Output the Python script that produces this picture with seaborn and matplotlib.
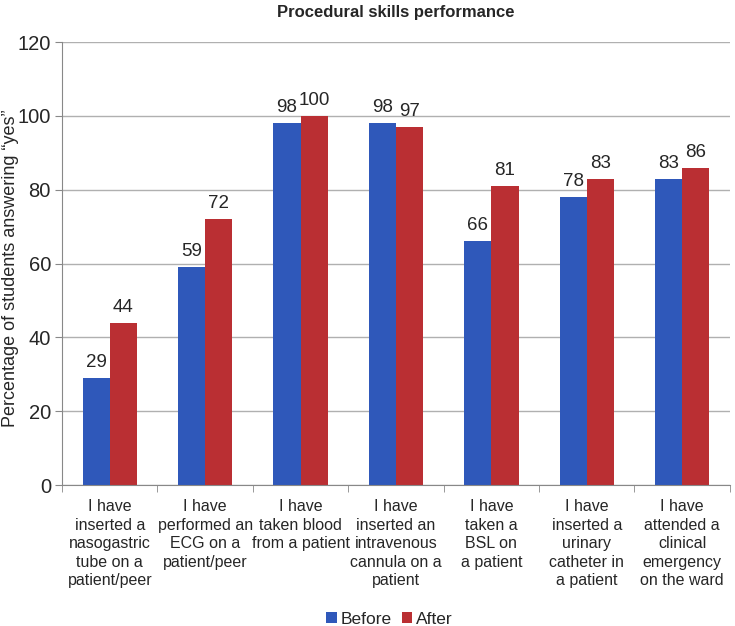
import pandas as pd
import numpy as np
import matplotlib.pyplot as plt
import seaborn as sns

# Chart data
categories = [
    "I have\ninserted a\nnasogastric\ntube on a\npatient/peer",
    "I have\nperformed an\nECG on a\npatient/peer",
    "I have\ntaken blood\nfrom a patient",
    "I have\ninserted an\nintravenous\ncannula on a\npatient",
    "I have\ntaken a\nBSL on\na patient",
    "I have\ninserted a\nurinary\ncatheter in\na patient",
    "I have\nattended a\nclinical\nemergency\non the ward",
]
before = [29, 59, 98, 98, 66, 78, 83]
after = [44, 72, 100, 97, 81, 83, 86]

df = pd.DataFrame({
    "skill": categories * 2,
    "value": before + after,
    "when": ["Before"] * len(categories) + ["After"] * len(categories),
})

sns.set_style("white")
plt.rcParams["font.family"] = ["Liberation Sans", "DejaVu Sans"]

fig = plt.figure(figsize=(7.35, 6.26), dpi=100)
ax = fig.add_axes([0.0844, 0.2252, 0.9086, 0.7077])

palette = {"Before": "#2F58BA", "After": "#BA2F33"}
sns.barplot(data=df, x="skill", y="value", hue="when", palette=palette,
            width=0.57, gap=0, saturation=1, linewidth=0, ax=ax, legend=True)

for cont in ax.containers:
    ax.bar_label(cont, fontsize=13.5, padding=5)

ax.set_ylim(0, 120)
ax.set_yticks(range(0, 121, 20))
ax.yaxis.grid(True, color="#b0b0b0", linewidth=1)
ax.set_axisbelow(True)
ax.set_xlim(-0.5, len(categories) - 0.5)

for side in ["top", "right"]:
    ax.spines[side].set_visible(False)
ax.spines["left"].set_color("#888888")
ax.spines["bottom"].set_color("#888888")

ax.tick_params(axis="y", labelsize=14.5, length=5, color="#888888", left=True, pad=3)
ax.tick_params(axis="x", which="major", length=0, labelsize=11.5, pad=10)
for lbl in ax.get_xticklabels():
    lbl.set_linespacing(1.3)
ax.set_xticks(np.arange(-0.5, len(categories)), minor=True)
ax.tick_params(axis="x", which="minor", length=5, color="#888888", bottom=True)

ax.set_xlabel("")
ax.set_ylabel("Percentage of students answering \u201cyes\u201d", fontsize=13)
ax.yaxis.set_label_coords(-0.064, 0.49)
ax.set_title("Procedural skills performance", fontsize=12, fontweight="bold", pad=18)

ax.legend(loc="center", bbox_to_anchor=(0.49, -0.303), ncol=2, frameon=False,
          fontsize=12.5, handlelength=0.6, handleheight=0.6, handletextpad=0.2,
          columnspacing=0.6, borderpad=0)

fig.savefig("out.png", dpi=100)
